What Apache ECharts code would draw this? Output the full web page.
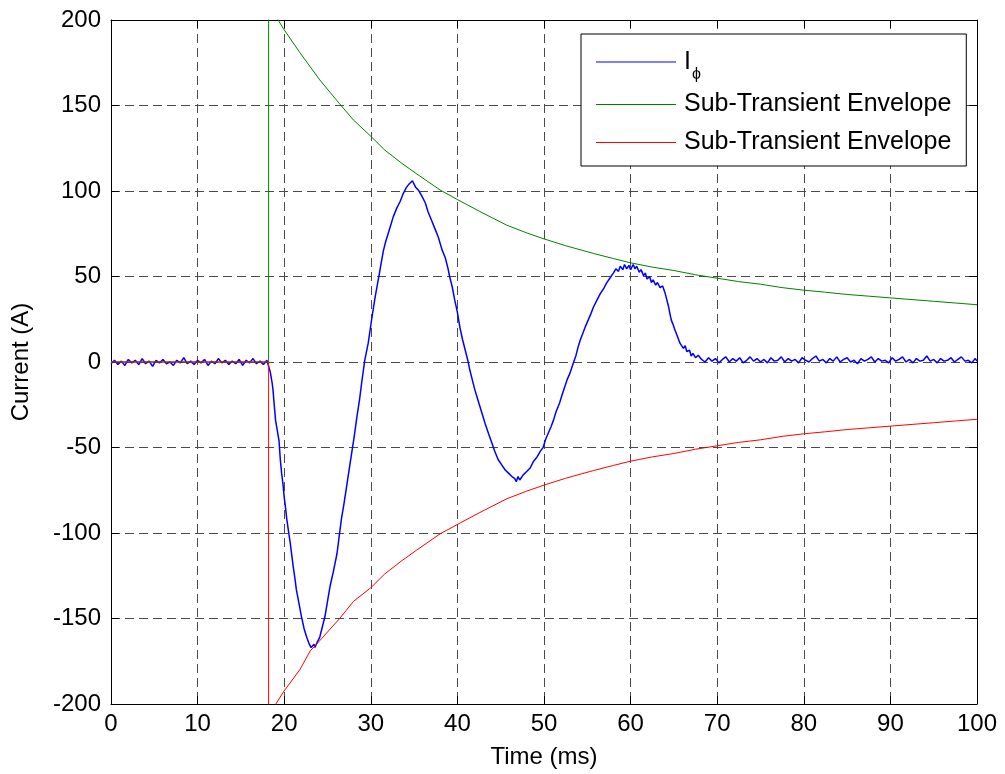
<!DOCTYPE html>
<html>
<head>
<meta charset="utf-8">
<script src="https://cdn.jsdelivr.net/npm/echarts@6/dist/echarts.min.js"></script>
<style>
html,body{margin:0;padding:0;background:#fff;}
#chart{width:1005px;height:774px;}
</style>
</head>
<body>
<div id="chart"></div>
<script>
// ---- data ----
var xTicks = [0, 10, 20, 30, 40, 50, 60, 70, 80, 90, 100];
var yTicks = [-200, -150, -100, -50, 0, 50, 100, 150, 200];
var legendNames = ['Iϕ', 'Sub-Transient Envelope', 'Sub-Transient Envelope'];

// phase current I_phi : [time ms, current A]
var phaseCurrent = [
  [0,-1],[0.4,1],[0.8,-1.5],[1.2,0.5],[1.6,-2],[2.0,1.5],[2.4,-0.5],[2.8,1],[3.2,-1.5],[3.6,2],
  [4.0,-1],[4.4,0.5],[4.8,-2.5],[5.2,1],[5.6,-0.5],[6.0,1.5],[6.4,-1],[6.8,0],[7.2,-2],[7.6,1],
  [8.0,-0.5],[8.4,2.5],[8.8,-1],[9.2,0.5],[9.6,-1.5],[10.0,1],[10.4,-0.5],[10.8,1.5],[11.2,-2],[11.6,0.5],
  [12.0,-1],[12.4,2],[12.8,-0.5],[13.2,1],[13.6,-1.5],[14.0,0.5],[14.4,-1],[14.8,1.5],[15.2,-2],[15.6,1],
  [16.0,-0.5],[16.4,2],[16.8,-1],[17.2,0.5],[17.6,-1.5],[18.0,1],[18.2,0],
  [18.4,-6],[18.6,-12],[18.7,-16],[18.9,-28],[19.0,-34],[19.2,-40],[19.4,-46],[19.55,-57],[19.7,-65],
  [19.85,-71],[20.0,-79],[20.15,-85],[20.3,-92],[20.5,-99],[20.7,-106],[20.9,-114],[21.05,-120],[21.25,-127],
  [21.4,-133],[21.7,-141],[22.0,-149],[22.3,-156],[22.6,-161],[22.9,-165],[23.1,-167],[23.3,-168],[23.45,-165],
  [23.55,-167],[23.8,-164],[24.1,-161],[24.4,-155],[24.7,-149],[25.0,-140],[25.3,-131],[25.7,-122],[26.1,-112],
  [26.35,-102],[26.6,-92],[26.9,-83],[27.2,-73],[27.5,-63],[27.8,-53],[28.1,-43],[28.4,-32],[28.7,-22],
  [28.95,-12],[29.3,1],[29.7,11],[30.1,25],[30.5,38],[30.75,45],[31.0,52],[31.2,58],[31.45,65],[31.7,70],
  [32.0,75],[32.3,80],[32.6,85],[33.0,90],[33.4,94],[33.7,98],[34.1,102],[34.4,104],[34.6,103],[34.8,106],
  [35.0,104],[35.2,102],[35.5,100.5],[35.9,97],[36.3,93],[36.6,88],[37.0,83],[37.4,78],[37.8,73],[38.2,66],
  [38.6,61],[38.9,55],[39.1,50],[39.4,44],[39.7,36],[40.0,29],[40.3,20],[40.6,13],[40.9,7],[41.2,1],
  [41.45,-5],[41.7,-10],[42.0,-16],[42.3,-21],[42.6,-26],[42.9,-31],[43.2,-36],[43.6,-42],[43.95,-47],[44.3,-52],
  [44.7,-57],[45.1,-60],[45.5,-63],[45.9,-65],[46.3,-67],[46.6,-68],[46.8,-70],[47.0,-67],[47.2,-69],[47.6,-66],
  [48.0,-64],[48.4,-62],[48.8,-58],[49.2,-55.5],[49.6,-52],[49.9,-50],[50.2,-45],[50.5,-41.5],[50.8,-38],[51.1,-34],
  [51.4,-29],[51.8,-24],[52.1,-19],[52.4,-14.5],[52.7,-10],[53.0,-6.5],[53.4,-0.5],[53.7,4],[53.95,9],[54.2,13],
  [54.5,17],[54.8,21],[55.1,24.5],[55.4,28],[55.7,32],[56.1,36],[56.5,40],[56.9,43],[57.2,46],[57.6,49],
  [58.0,52],[58.3,54.5],[58.6,53],[58.8,56],[59.1,54],[59.3,57],[59.55,54.5],[59.8,56.5],[60.0,54],[60.3,57],
  [60.5,54.5],[60.7,56],[61.0,52.5],[61.2,54],[61.5,50.5],[61.7,52],[61.9,48.5],[62.2,50],[62.4,46.5],[62.6,48],
  [62.9,45],[63.1,46.5],[63.4,43.5],[63.7,44.5],[64.0,40],[64.2,36],[64.4,32],[64.55,28],[64.7,24.5],[64.9,22],
  [65.1,19],[65.4,15],[65.7,11],[65.9,12],[66.1,8],[66.3,9.5],[66.5,6],[66.8,7],[67.0,3.5],[67.2,5],
  [67.5,2.5],[67.8,4],[68.2,1.5],[68.6,0],[69.0,2.5],[69.4,0.5],[69.8,2],[70.2,-0.5],[70.6,1.5],[71.0,3],
  [71.4,0],[71.8,2],[72.2,0.5],[72.6,2.5],[73.0,-0.5],[73.4,1],[73.8,3],[74.2,0.5],[74.6,2],[75.0,0],
  [75.4,1.5],[75.8,-0.5],[76.2,2.5],[76.6,0.5],[77.0,1],[77.4,3],[77.8,0],[78.2,2],[78.6,0.5],[79.0,1.5],
  [79.4,-0.5],[79.8,2.5],[80.2,1],[80.6,0],[81.0,2],[81.4,3.5],[81.8,0.5],[82.2,1.5],[82.6,-0.5],[83.0,2],
  [83.4,0.5],[83.8,3],[84.2,0],[84.6,1.5],[85.0,2.5],[85.4,0],[85.8,1],[86.2,-1],[86.6,2],[87.0,0.5],
  [87.4,1.5],[87.8,3],[88.2,0],[88.6,2],[89.0,0.5],[89.4,1],[89.8,-0.5],[90.2,2.5],[90.6,0.5],[91.0,1.5],
  [91.4,3],[91.8,0],[92.2,1.5],[92.6,-0.5],[93.0,2],[93.4,0.5],[93.8,1],[94.2,3.5],[94.6,0.5],[95.0,1.5],
  [95.4,-0.5],[95.8,2],[96.2,0.5],[96.6,1],[97.0,2.5],[97.4,0],[97.8,1.5],[98.2,3],[98.6,0.5],[99.0,1],
  [99.4,-0.5],[99.8,2],[100,0.5]
];

// upper sub-transient envelope (green)
var envelopeUpper = [
  [0,0],[18.2,0],[18.2,212],[19.3,200],[19.9,195],[21.8,181],[24.1,165],[26.4,151],[28,141.5],[30,132],
  [31.6,124],[33.5,116.5],[35.3,110],[38,100.6],[40,95],[42.6,88],[45.7,80],[48,75.5],[50,72],[52.5,68],
  [55.7,63.5],[58,60.5],[60,58],[62.5,55.5],[65,53.5],[67.5,51],[70,49],[72.5,47],[75,45.5],[77.5,43.5],
  [80,42],[82.5,40.8],[85,39.5],[87.5,38.5],[90,37.5],[92.5,36.5],[95,35.5],[97.5,34.5],[100,33.5]
];

// lower sub-transient envelope (red)
var envelopeLower = [
  [0,0],[18.2,0],[18.2,-212],[19.1,-199.5],[19.9,-193],[21.8,-180],[23,-169],[24.1,-163],[26.4,-150],[28,-140],
  [30,-132],[31.6,-124],[33.5,-116.5],[35.3,-110],[38,-100.5],[40,-95],[42.6,-88],[45.7,-80],[48,-75.5],[50,-72],
  [52.5,-68],[55.7,-63.5],[58,-60.5],[60,-58],[62.5,-55.5],[65,-53.5],[67.5,-51],[70,-49],[72.5,-47],[75,-45.5],
  [77.5,-43.5],[80,-42],[82.5,-40.8],[85,-39.5],[87.5,-38.5],[90,-37.5],[92.5,-36.5],[95,-35.5],[97.5,-34.5],[100,-33.5]
];

// ---- chart ----
var FONT = "'Liberation Sans', Arial, Helvetica, sans-serif";
var chart = echarts.init(document.getElementById('chart'), null, {renderer: 'canvas'});

var gridLine = {show: true, lineStyle: {color: '#4a4a4a', width: 1, type: [9, 5]}};
var blackLine = {show: true, onZero: false, lineStyle: {color: '#000', width: 1}};

var seriesIds = ['iphi', 'envUp', 'envLow'];
var nameMap = {iphi: legendNames[0], envUp: legendNames[1], envLow: legendNames[2]};

var option = {
  animation: false,
  backgroundColor: '#fff',
  textStyle: {fontFamily: FONT},
  grid: {left: 111, right: 28, top: 20, bottom: 70, containLabel: false},
  xAxis: [{
    type: 'value', min: xTicks[0], max: xTicks[xTicks.length - 1], interval: 10,
    position: 'bottom',
    name: 'Time (ms)', nameLocation: 'middle', nameGap: 41,
    nameTextStyle: {fontSize: 24, color: '#000', fontFamily: FONT},
    axisLine: blackLine,
    axisTick: {show: true, inside: true, length: 8, lineStyle: {color: '#000'}},
    axisLabel: {fontSize: 24, color: '#000', margin: 8, fontFamily: FONT},
    splitLine: gridLine
  }, {
    type: 'value', min: xTicks[0], max: xTicks[xTicks.length - 1], interval: 10,
    position: 'top',
    axisLine: blackLine,
    axisTick: {show: true, inside: true, length: 8, lineStyle: {color: '#000'}},
    axisLabel: {show: false},
    splitLine: {show: false}
  }],
  yAxis: [{
    type: 'value', min: yTicks[0], max: yTicks[yTicks.length - 1], interval: 50,
    position: 'left',
    name: 'Current (A)', nameLocation: 'middle', nameGap: 78,
    nameTextStyle: {fontSize: 24, color: '#000', fontFamily: FONT},
    axisLine: blackLine,
    axisTick: {show: true, inside: true, length: 8, lineStyle: {color: '#000'}},
    axisLabel: {fontSize: 24, color: '#000', margin: 10, fontFamily: FONT},
    splitLine: gridLine
  }, {
    type: 'value', min: yTicks[0], max: yTicks[yTicks.length - 1], interval: 50,
    position: 'right',
    axisLine: blackLine,
    axisTick: {show: true, inside: true, length: 8, lineStyle: {color: '#000'}},
    axisLabel: {show: false},
    splitLine: {show: false}
  }],
  legend: {
    left: 581, top: 34,
    orient: 'vertical',
    selectedMode: false,
    backgroundColor: '#fff',
    borderColor: '#000', borderWidth: 1, borderRadius: 0,
    padding: [7, 15, 7, 15],
    icon: 'rect',
    itemWidth: 80, itemHeight: 1, itemGap: 5,
    data: seriesIds,
    formatter: function (id) {
      if (id === 'iphi') return '{i|I}{s|ϕ}';
      return nameMap[id];
    },
    textStyle: {
      fontSize: 25, color: '#000', fontFamily: FONT, lineHeight: 33,
      padding: [0, 0, 0, 3],
      rich: {
        i: {fontSize: 25, lineHeight: 33, color: '#000', fontFamily: FONT},
        s: {fontSize: 16, lineHeight: 16, color: '#000', fontFamily: FONT, padding: [26, 0, 0, 1]}
      }
    }
  },
  series: [{
    name: 'iphi', type: 'line', data: phaseCurrent, showSymbol: false, symbol: 'none',
    lineStyle: {color: '#0000ff', width: 1.5}, itemStyle: {color: '#0000ff'}, clip: true
  }, {
    name: 'envUp', type: 'line', data: envelopeUpper, showSymbol: false, symbol: 'none',
    lineStyle: {color: '#008000', width: 1}, itemStyle: {color: '#008000'}, clip: true
  }, {
    name: 'envLow', type: 'line', data: envelopeLower, showSymbol: false, symbol: 'none',
    lineStyle: {color: '#ff0000', width: 1}, itemStyle: {color: '#ff0000'}, clip: true
  }]
};
chart.setOption(option);
</script>
</body>
</html>
